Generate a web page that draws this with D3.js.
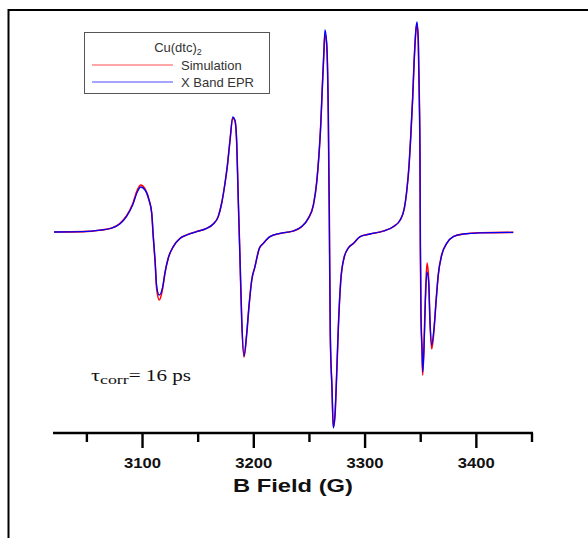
<!DOCTYPE html>
<html>
<head>
<meta charset="utf-8">
<script src="https://cdn.jsdelivr.net/npm/d3@7/dist/d3.min.js"></script>
<style>
  html, body { margin: 0; padding: 0; background: #fff; }
  svg { display: block; }
</style>
</head>
<body>
<svg id="chart" width="588" height="538"></svg>
<script>
// ---- data ----
const field = [3021,3047,3062,3073,3080,3086,3091.6,3095.8,3098.8,3102.7,3106.3,3108.7,3110.1,3111.7,3113.2,3115.5,3118.6,3120.6,3123.6,3128.1,3134.1,3140.1,3149.1,3158.1,
  3164,3168.5,3171.6,3174.6,3176.6,3179.1,3181.5,3183.5,3185.1,3186.5,3188,3189.6,3191.6,3194.1,3196.1,3198.6,3201.5,3205.4,3209,3215,3224,
  3236,3243.5,3249.4,3254,3257,3259,3260.6,3262,3263.3,3264.4,3265.9,3267.4,3268.3,3269.2,3270.7,3271.9,3273.4,3274.9,3276.4,3278.5,3281.5,3285.4,3290,3296,3305,
  3317,3326,3332,3335.7,3337.8,3340,3341.4,3343.2,3344.4,3346.2,3347.1,3348.3,3349.2,3349.8,3350.1,3350.7,3351.6,3352.2,3353.4,3354.6,3356.1,3357.6,3358.8,3360.3,3362.4,3364.2,3366.2,3369.3,3373.8,3379.7,3388.7,3403.7,3433.6];

const eprSignal = [0,0.002,0.009,0.02,0.04,0.077,0.135,0.2,0.225,0.21,0.16,0.095,-0.023,-0.14,-0.273,-0.315,-0.273,-0.205,-0.13,-0.073,-0.032,-0.015,0.002,0.018,
  0.04,0.077,0.145,0.245,0.327,0.46,0.575,0.56,0.445,0.16,-0.123,-0.44,-0.62,-0.505,-0.373,-0.24,-0.173,-0.082,-0.057,-0.023,-0.007,
  0.005,0.027,0.068,0.135,0.25,0.385,0.535,0.72,0.885,1.01,0.95,0.585,0.085,-0.515,-0.78,-0.98,-0.915,-0.715,-0.48,-0.25,-0.13,-0.08,-0.057,-0.023,-0.01,
  0.005,0.027,0.06,0.118,0.2,0.335,0.468,0.668,0.835,1.018,1.05,0.95,0.668,0.368,-0.048,-0.415,-0.58,-0.70,-0.58,-0.35,-0.2,-0.25,-0.45,-0.565,-0.48,-0.35,-0.215,-0.115,-0.057,-0.023,-0.01,-0.004,-0.002];

const simSignal = [0,0.002,0.009,0.02,0.042,0.08,0.14,0.21,0.235,0.215,0.16,0.095,-0.023,-0.145,-0.285,-0.34,-0.28,-0.205,-0.13,-0.073,-0.032,-0.015,0.002,0.018,
  0.04,0.077,0.145,0.245,0.327,0.46,0.57,0.555,0.445,0.16,-0.123,-0.44,-0.625,-0.51,-0.373,-0.24,-0.173,-0.082,-0.057,-0.023,-0.007,
  0.005,0.027,0.068,0.135,0.25,0.385,0.535,0.72,0.88,0.99,0.94,0.585,0.085,-0.515,-0.78,-0.975,-0.92,-0.715,-0.48,-0.25,-0.13,-0.08,-0.057,-0.023,-0.01,
  0.005,0.027,0.06,0.118,0.2,0.335,0.468,0.668,0.835,1.01,1.04,0.95,0.668,0.368,-0.048,-0.415,-0.59,-0.715,-0.57,-0.33,-0.155,-0.24,-0.45,-0.585,-0.49,-0.35,-0.215,-0.115,-0.057,-0.023,-0.01,-0.004,-0.002];

const majorTicks = [3100, 3200, 3300, 3400];
const minorTicks = [3050, 3150, 3250, 3350, 3450];
const xLabel = "B Field (G)";
const legendTitle = "Cu(dtc)";
const legendTitleSub = "2";
const seriesNames = ["Simulation", "X Band EPR"];
const seriesColors = ["#ff0000", "#0000ff"];

// ---- drawing ----
const svg = d3.select("#chart");

const x = d3.scaleLinear().domain([3020, 3450]).range([53, 531.5]);
const y = d3.scaleLinear().domain([-1, 1]).range([432, 32]);
const axisY = 433;

// frame
svg.append("path")
  .attr("d", "M8.5,538 L8.5,10 L588,10")
  .attr("fill", "none").attr("stroke", "#000").attr("stroke-width", 2);

// data lines
const line = d3.line().x(d => x(d[0])).y(d => y(d[1])).curve(d3.curveMonotoneX);
const simData = field.map((f, i) => [f, simSignal[i]]);
const eprData = field.map((f, i) => [f, eprSignal[i]]);

svg.append("path").datum(simData)
  .attr("d", line).attr("fill", "none")
  .attr("stroke", seriesColors[0]).attr("stroke-width", 1.6);
svg.append("path").datum(eprData)
  .attr("d", line).attr("fill", "none")
  .attr("stroke", seriesColors[1]).attr("stroke-width", 1.3);

// x axis
const axisG = svg.append("g").attr("transform", `translate(0,${axisY})`);
axisG.call(d3.axisBottom(x).tickValues(majorTicks).tickSize(15).tickSizeOuter(0).tickFormat(d3.format("d")));
axisG.select(".domain").attr("stroke", "#000").attr("stroke-width", 2.6)
  .attr("d", `M${x(3020)},0H${x(3450) + 1.5}`);
axisG.selectAll(".tick line").attr("stroke", "#000").attr("stroke-width", 2.4);
axisG.selectAll(".tick text")
  .attr("y", 25)
  .attr("font-family", "Liberation Sans, Arial, sans-serif")
  .attr("font-weight", "bold")
  .attr("font-size", 14.5)
  .attr("textLength", 37).attr("lengthAdjust", "spacingAndGlyphs")
  .attr("fill", "#111");

const minorG = svg.append("g").attr("transform", `translate(0,${axisY})`);
minorG.call(d3.axisBottom(x).tickValues(minorTicks).tickSize(9).tickFormat(""));
minorG.select(".domain").remove();
minorG.selectAll(".tick line").attr("stroke", "#000").attr("stroke-width", 2.4);

// axis title
svg.append("text")
  .attr("x", 293).attr("y", 492)
  .attr("text-anchor", "middle")
  .attr("font-family", "Liberation Sans, Arial, sans-serif")
  .attr("font-weight", "bold")
  .attr("font-size", 19)
  .attr("textLength", 120).attr("lengthAdjust", "spacingAndGlyphs")
  .attr("fill", "#111")
  .text(xLabel);

// tau label (horizontally stretched like the reference)
const tau = svg.append("text")
  .attr("transform", "translate(91,381) scale(1.32,1)")
  .attr("font-family", "Liberation Serif, Times New Roman, serif")
  .attr("font-size", 16)
  .attr("fill", "#111");
tau.append("tspan").attr("font-size", 17).text("τ");
tau.append("tspan").attr("font-size", 13.5).attr("dy", 3).text("corr");
tau.append("tspan").attr("dy", -3).text("= 16 ps");

// legend
const lg = svg.append("g");
lg.append("rect").attr("x", 84.5).attr("y", 32.5).attr("width", 185).attr("height", 61)
  .attr("fill", "#fff").attr("stroke", "#555").attr("stroke-width", 1);
const title = lg.append("text")
  .attr("x", 178).attr("y", 52)
  .attr("text-anchor", "middle")
  .attr("font-family", "Liberation Sans, Arial, sans-serif")
  .attr("font-size", 13).attr("fill", "#333");
title.append("tspan").text(legendTitle);
title.append("tspan").attr("font-size", 9).attr("dy", 3).text(legendTitleSub);

const legendRows = [65, 82];
seriesNames.forEach((name, i) => {
  lg.append("line")
    .attr("x1", 92).attr("x2", 173)
    .attr("y1", legendRows[i]).attr("y2", legendRows[i])
    .attr("stroke", seriesColors[i]).attr("stroke-width", 1)
    .attr("stroke-opacity", 0.7);
  lg.append("text")
    .attr("x", 181).attr("y", legendRows[i] + 5)
    .attr("font-family", "Liberation Sans, Arial, sans-serif")
    .attr("font-size", 13).attr("fill", "#333")
    .text(name);
});
</script>
</body>
</html>
